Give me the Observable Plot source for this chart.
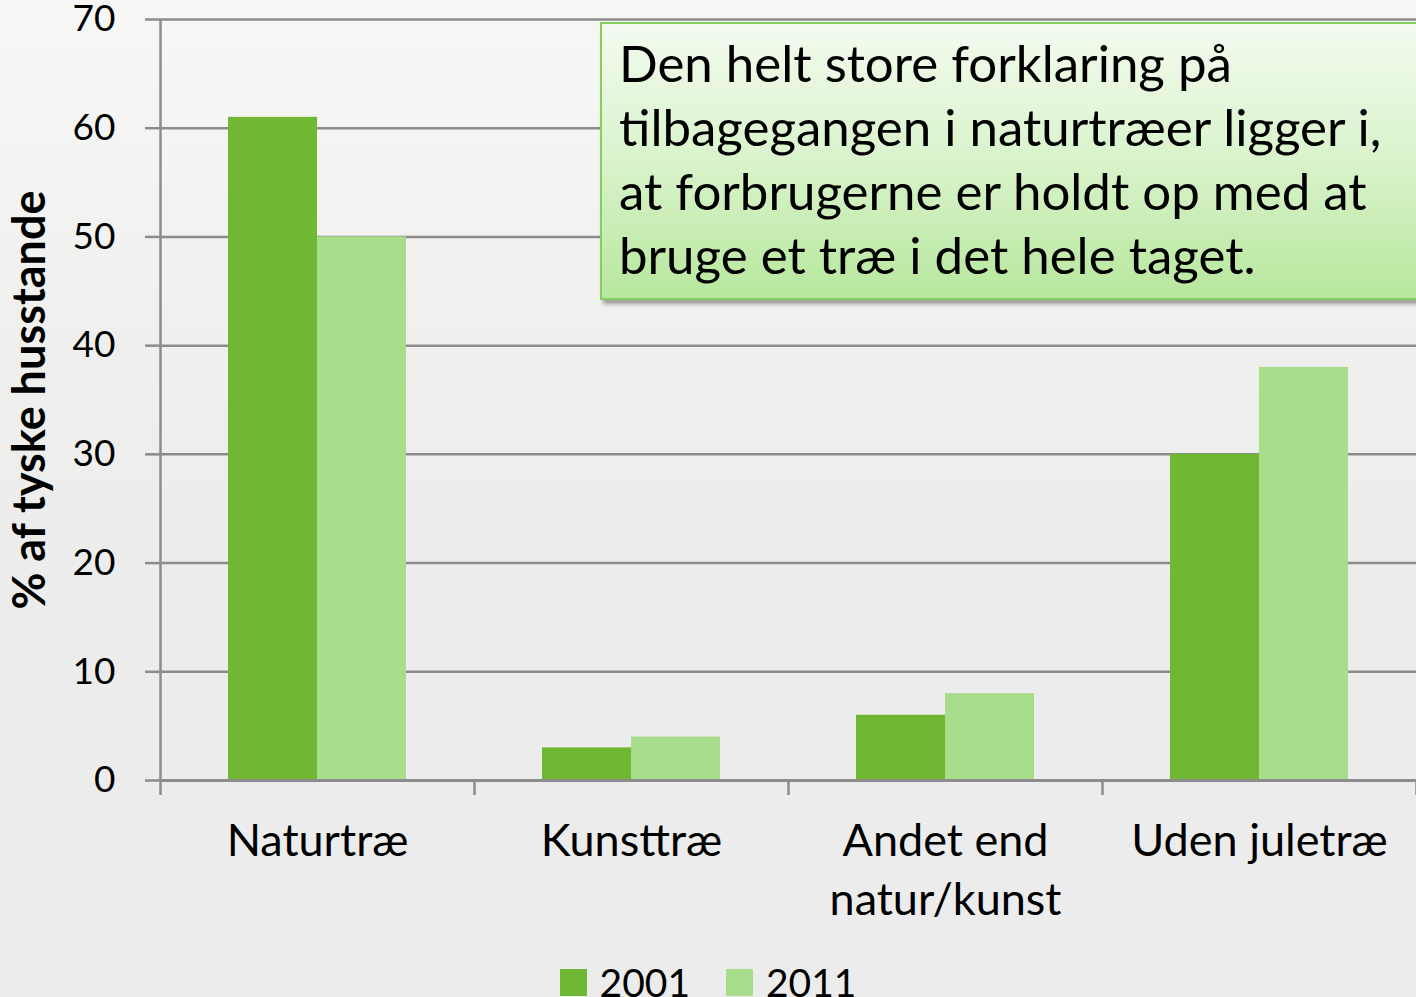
<!DOCTYPE html>
<html>
<head>
<meta charset="utf-8">
<script src="https://cdn.jsdelivr.net/npm/d3@7"></script>
<script src="https://cdn.jsdelivr.net/npm/@observablehq/plot@0.6"></script>
<style>
  html, body { margin: 0; padding: 0; }
  body {
    width: 1416px; height: 997px; overflow: hidden;
    background: linear-gradient(to bottom, #f7f8f6 0%, #efefee 35%, #ececec 60%, #ececec 100%);
    font-family: Lato, "Open Sans", sans-serif;
  }
  #wrap { position: relative; width: 1416px; height: 997px; }
  #chart svg { display: block; }
  #note {
    position: absolute; left: 600px; top: 22px; width: 840px; height: 278px;
    box-sizing: border-box;
    border: 2px solid #86cf5e;
    background: linear-gradient(to bottom, #f3fbef 0%, #d9f3cb 50%, #b7e79d 100%);
    box-shadow: 3px 4px 4px rgba(0,0,0,0.35);
    padding: 7px 0 0 17px;
    font-family: Lato, sans-serif; font-size: 51px; line-height: 64px; color: #000;
    white-space: nowrap;
  }
  #legend {
    position: absolute; left: 0; top: 959px; width: 1416px;
    display: flex; justify-content: center; align-items: center;
    font-family: Lato, sans-serif; font-size: 39px; color: #000;
  }
  .sw { display: inline-block; width: 27px; height: 27px; margin-right: 13px; }
  .item { display: flex; align-items: center; margin: 0 18px; }
</style>
</head>
<body>
<div id="wrap">
  <div id="chart"></div>
  <div id="note"></div>
  <div id="legend"></div>
</div>
<script>
// ---- data ----
const categories = ["Naturtræ", "Kunsttræ", "Andet end natur/kunst", "Uden juletræ"];
const categoryLabels = ["Naturtræ", "Kunsttræ", "Andet end\nnatur/kunst", "Uden juletræ"];
const years = ["2001", "2011"];
const values2001 = [61, 3, 6, 30];
const values2011 = [50, 4, 8, 38];
const yTicks = [0, 10, 20, 30, 40, 50, 60, 70];
const yLabel = "% af tyske husstande";
const noteLines = [
  "Den helt store forklaring på",
  "tilbagegangen i naturtræer ligger i,",
  "at forbrugerne er holdt op med at",
  "bruge et træ i det hele taget."
];
const colors = ["#70b833", "#a8dd8c"];

// ---- table ----
const seriesValues = [values2001, values2011];
const rows = [];
categories.forEach((c, i) => {
  years.forEach((y, j) => rows.push({category: c, index: i, year: y, slot: j, value: seriesValues[j][i]}));
});

const groupPad = 0.2166; // fraction of category step left empty on each side
const barW = (1 - 2 * groupPad) / years.length;

const gridColor = "#8c8c8c";

const chart = Plot.plot({
  width: 1416,
  height: 955,
  marginLeft: 160,
  marginRight: 0,
  marginTop: 19,
  marginBottom: 175,
  style: {background: "transparent", fontFamily: "Lato, sans-serif", fontSize: "32px", color: "#000", overflow: "visible"},
  x: {type: "linear", domain: [0, categories.length], axis: null},
  y: {domain: [0, 70], axis: null},
  color: {domain: years, range: colors},
  marks: [
    // gridlines + left ticks
    Plot.ruleY(yTicks, {stroke: gridColor, strokeWidth: 2.5}),
    Plot.axisY({ticks: yTicks, tickSize: 15, tickPadding: 30, stroke: gridColor, strokeWidth: 2.5,
      fill: "#000", fontSize: 37, label: null, tickFormat: d => String(d)}),
    // bars
    Plot.rectY(rows, {
      x1: d => d.index + groupPad + d.slot * barW,
      x2: d => d.index + groupPad + (d.slot + 1) * barW,
      y1: d => 0,
      y2: "value",
      fill: "year"
    }),
    // baseline and vertical axis line
    Plot.ruleY([0], {stroke: gridColor, strokeWidth: 3}),
    Plot.ruleX([0], {stroke: gridColor, strokeWidth: 2.5}),
    // category boundary ticks
    Plot.axisX({ticks: d3.range(categories.length + 1), tickSize: 15, tickFormat: () => "", label: null,
      stroke: gridColor, strokeWidth: 2.5}),
    // category labels
    Plot.axisX({ticks: categories.map((c, i) => i + 0.5), tickSize: 0, tickPadding: 34, label: null,
      tickFormat: d => categoryLabels[Math.floor(d)], fontSize: 45, lineHeight: 1.31, fill: "#000"}),
    // y label
    Plot.text([yLabel], {frameAnchor: "left", text: d => d, rotate: -90, dx: -130,
      textAnchor: "middle", lineAnchor: "middle",
      fontSize: 45, fontWeight: "bold", fill: "#000"})
  ]
});
document.getElementById("chart").appendChild(chart);

// annotation
const note = document.getElementById("note");
noteLines.forEach(l => { const d = document.createElement("div"); d.textContent = l; note.appendChild(d); });

// legend
const legend = document.getElementById("legend");
years.forEach((y, j) => {
  const it = document.createElement("span"); it.className = "item";
  const sw = document.createElement("span"); sw.className = "sw"; sw.style.background = colors[j];
  const t = document.createElement("span"); t.textContent = y;
  it.appendChild(sw); it.appendChild(t); legend.appendChild(it);
});
</script>
</body>
</html>
